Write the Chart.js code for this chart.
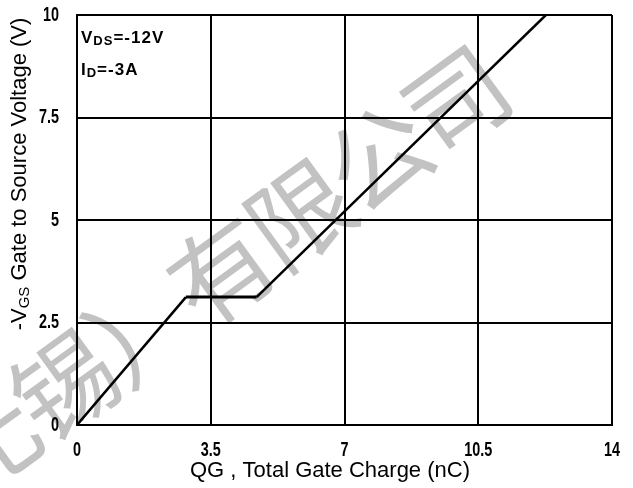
<!DOCTYPE html>
<html>
<head>
<meta charset="utf-8">
<script src="https://cdn.jsdelivr.net/npm/chart.js@4"></script>
<style>
  html, body { margin: 0; padding: 0; background: #fff; }
  #wrap { width: 633px; height: 488px; }
</style>
</head>
<body>
<div id="wrap"><canvas id="myChart"></canvas></div>
<script>
// gate charge curve
const qg = [0, 2.85, 4.7, 12.27];
const vgs = [0, 3.12, 3.12, 10];
const xTicks = [0, 3.5, 7, 10.5, 14];
const yTicks = [0, 2.5, 5, 7.5, 10];
const watermark = '无锡）有限公司';

const FONT = '"Liberation Sans", Arial, sans-serif';

// draws text pieces with subscripts, left to right
function drawRich(ctx, parts, x, y) {
  parts.forEach(p => {
    ctx.font = p.font;
    ctx.fillText(p.t, x, y + (p.dy || 0));
    x += ctx.measureText(p.t).width;
  });
  return x;
}
function richWidth(ctx, parts) {
  let w = 0;
  parts.forEach(p => { ctx.font = p.font; w += ctx.measureText(p.t).width; });
  return w;
}
// narrow bold tick text (the picture uses a condensed face)
function narrow(ctx, t, x, y, align) {
  ctx.save();
  ctx.font = 'bold 20px ' + FONT;
  ctx.textAlign = align;
  ctx.textBaseline = 'middle';
  ctx.translate(x, y);
  ctx.scale(0.72, 1);
  ctx.fillText(t, 0, 0);
  ctx.restore();
}

const extras = {
  id: 'extras',
  beforeDraw(chart) {
    const ctx = chart.ctx;
    ctx.save();
    ctx.fillStyle = '#c2c2c2';
    ctx.font = '102px "Noto Sans CJK SC", sans-serif';
    ctx.textAlign = 'center';
    ctx.textBaseline = 'middle';
    ctx.translate(-14, 442);
    ctx.rotate(-36 * Math.PI / 180);
    [...watermark].forEach((c, i) => ctx.fillText(c, i * 97, 0));
    ctx.restore();
  },
  afterDraw(chart) {
    const ctx = chart.ctx;
    const xs = chart.scales.x, ys = chart.scales.y;
    const big = '22px ' + FONT;
    const small = '15px ' + FONT;
    const b = 'bold 17px ' + FONT;
    const bs = 'bold 13px ' + FONT;
    ctx.save();
    ctx.fillStyle = '#000';

    // tick labels
    xTicks.forEach(v => narrow(ctx, String(v), xs.getPixelForValue(v), 450, 'center'));
    yTicks.forEach(v => narrow(ctx, String(v), 59, ys.getPixelForValue(v), 'right'));

    ctx.textBaseline = 'alphabetic';
    // annotation
    ctx.letterSpacing = '1px';
    drawRich(ctx, [{t: 'V', font: b}, {t: 'DS', font: bs, dy: 2}, {t: '=-12V', font: b}], 81, 43);
    drawRich(ctx, [{t: 'I', font: b}, {t: 'D', font: bs, dy: 2}, {t: '=-3A', font: b}], 81, 75);
    ctx.letterSpacing = '0px';

    // x title
    const xt = [{t: 'QG , Total Gate Charge (nC)', font: big}];
    drawRich(ctx, xt, 330 - richWidth(ctx, xt) / 2, 477);

    // y title
    const yt = [{t: '-V', font: big}, {t: 'GS', font: small, dy: 3}, {t: ' Gate to Source Voltage (V)', font: big}];
    ctx.translate(26, 174);
    ctx.rotate(-Math.PI / 2);
    drawRich(ctx, yt, -richWidth(ctx, yt) / 2, 0);
    ctx.restore();
  }
};

const chart = new Chart(document.getElementById('myChart'), {
  type: 'scatter',
  data: {
    datasets: [{
      data: qg.map((q, i) => ({ x: q, y: vgs[i] })),
      showLine: true,
      borderColor: '#000',
      borderWidth: 2.5,
      pointRadius: 0,
      segment: { borderWidth: c => (c.p0.parsed.y === c.p1.parsed.y ? 3 : 2.5) }
    }]
  },
  options: {
    responsive: true,
    maintainAspectRatio: false,
    animation: false,
    layout: { padding: { left: 0, top: 15, right: 21, bottom: 0 } },
    plugins: { legend: { display: false }, tooltip: { enabled: false } },
    scales: {
      x: {
        type: 'linear', min: 0, max: 14,
        afterBuildTicks: s => { s.ticks = xTicks.map(v => ({ value: v })); },
        afterFit: s => { s.height = 63; },
        grid: { color: '#000', lineWidth: 2, drawTicks: false },
        border: { color: '#000', width: 2 },
        ticks: { display: false }
      },
      y: {
        type: 'linear', min: 0, max: 10,
        afterBuildTicks: s => { s.ticks = yTicks.map(v => ({ value: v })); },
        afterFit: s => { s.width = 77; },
        grid: { color: '#000', lineWidth: 2, drawTicks: false },
        border: { color: '#000', width: 2 },
        ticks: { display: false }
      }
    }
  },
  plugins: [extras]
});
</script>
</body>
</html>
